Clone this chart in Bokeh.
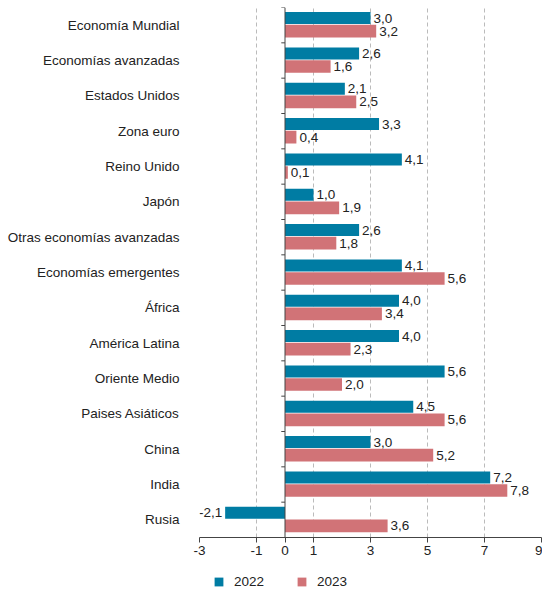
from bokeh.plotting import figure
from bokeh.layouts import column
from bokeh.models import (ColumnDataSource, FactorRange, FixedTicker, Span, Legend,
                          LegendItem, Range1d)
from bokeh.transform import dodge
from bokeh.core.properties import value
from bokeh.embed import file_html
from bokeh.resources import INLINE

categories = ["Economía Mundial", "Economías avanzadas", "Estados Unidos", "Zona euro",
              "Reino Unido", "Japón", "Otras economías avanzadas", "Economías emergentes",
              "África", "América Latina", "Oriente Medio", "Paises Asiáticos", "China",
              "India", "Rusia"]
v2022 = [3.0, 2.6, 2.1, 3.3, 4.1, 1.0, 2.6, 4.1, 4.0, 4.0, 5.6, 4.5, 3.0, 7.2, -2.1]
v2023 = [3.2, 1.6, 2.5, 0.4, 0.1, 1.9, 1.8, 5.6, 3.4, 2.3, 2.0, 5.6, 5.2, 7.8, 3.6]
x_ticks = [-3, -1, 0, 1, 3, 5, 7, 9]
grid_ticks = [-3, -1, 1, 3, 5, 7, 9]
series_names = ["2022", "2023"]

BLUE = "#007ca3"
PINK = "#d17377"
FONT = "Liberation Sans"
TXT = "#222222"

def fmt(v):
    return f"{v:.1f}".replace(".", ",")

src = ColumnDataSource(dict(
    cat=categories, v2022=v2022, v2023=v2023,
    l2022=[fmt(v) for v in v2022], l2023=[fmt(v) for v in v2023],
    a2022=["left" if v >= 0 else "right" for v in v2022],
    a2023=["left" if v >= 0 else "right" for v in v2023],
    o2022=[3 if v >= 0 else -3 for v in v2022],
    o2023=[3 if v >= 0 else -3 for v in v2023],
    tx0=[-0.13] * len(categories), tx1=[0] * len(categories),
))

p = figure(frame_width=342, frame_height=530, output_backend="svg", toolbar_location=None,
           y_range=FactorRange(factors=list(reversed(categories))),
           x_range=Range1d(-3, 9),
           min_border_left=199, min_border_right=1, min_border_top=7,
           min_border_bottom=30)
p.outline_line_color = None
p.background_fill_color = "white"

# grid
p.ygrid.visible = False
p.xgrid.ticker = FixedTicker(ticks=grid_ticks)
p.xgrid.grid_line_color = "#bbbbbb"
p.xgrid.grid_line_dash = "4 3"
p.xgrid.grid_line_width = 1

r1 = p.hbar(y=dodge("cat", 0.2, range=p.y_range), right="v2022", left=0, height=0.34,
            source=src, fill_color=BLUE, line_color=None)
r2 = p.hbar(y=dodge("cat", -0.17, range=p.y_range), right="v2023", left=0, height=0.36,
            source=src, fill_color=PINK, line_color=None)

p.text(x="v2022", y=dodge("cat", 0.2, range=p.y_range), text="l2022", source=src,
       text_align="a2022", x_offset="o2022", text_baseline="middle",
       text_font=value(FONT), text_font_size="13.5px", text_color=TXT)
p.text(x="v2023", y=dodge("cat", -0.17, range=p.y_range), text="l2023", source=src,
       text_align="a2023", x_offset="o2023", text_baseline="middle",
       text_font=value(FONT), text_font_size="13.5px", text_color=TXT)

# vertical axis line at zero with boundary ticks
p.add_layout(Span(location=0, dimension="height", line_color="#444444", line_width=1))
p.segment(x0="tx0", x1="tx1", y0=dodge("cat", 0.5, range=p.y_range),
          y1=dodge("cat", 0.5, range=p.y_range), source=src, line_color="#444444",
          line_width=1)

# y axis (labels only)
ya = p.yaxis[0]
ya.axis_line_color = None
ya.major_tick_line_color = None
ya.minor_tick_line_color = None
ya.major_tick_out = 0
ya.major_tick_in = 0
ya.major_label_standoff = 20
ya.major_label_text_font = FONT
ya.major_label_text_font_size = "13.5px"
ya.major_label_text_color = TXT

# x axis
xa = p.xaxis[0]
xa.ticker = FixedTicker(ticks=x_ticks)
xa.major_label_overrides = {t: str(t) for t in x_ticks}
xa.axis_line_color = "#444444"
xa.major_tick_line_color = "#444444"
xa.major_tick_out = 5
xa.major_tick_in = 0
xa.minor_tick_line_color = None
xa.major_label_standoff = 3
xa.major_label_text_font = FONT
xa.major_label_text_font_size = "13.5px"
xa.major_label_text_color = TXT

# legend figure below (frame aligned with the chart frame)
lf = figure(width=542, height=25, output_backend="svg", toolbar_location=None,
            x_range=Range1d(0, 1), y_range=Range1d(0, 1),
            min_border_left=0, min_border_right=0, min_border_top=0, min_border_bottom=0)
lf.axis.visible = False
lf.grid.visible = False
lf.outline_line_color = None
# legend-only swatches, placed outside the visible range
lr1 = lf.hbar(y=[-10], left=[-10], right=[-9], height=0.5, fill_color=BLUE, line_color=None)
lr2 = lf.hbar(y=[-10], left=[-10], right=[-9], height=0.5, fill_color=PINK, line_color=None)
legend = Legend(items=[LegendItem(label=series_names[0], renderers=[lr1]),
                       LegendItem(label=series_names[1], renderers=[lr2])],
                orientation="horizontal", location=(14, 3),
                glyph_width=11, glyph_height=11, label_standoff=10, spacing=32,
                label_text_font=FONT, label_text_font_size="13.5px",
                label_text_color=TXT, label_height=11,
                border_line_color=None, background_fill_alpha=0,
                padding=0, margin=0)
lf.add_layout(legend, "center")

layout = column(p, lf, spacing=0)
open("out.html", "w").write(file_html(layout, INLINE))
